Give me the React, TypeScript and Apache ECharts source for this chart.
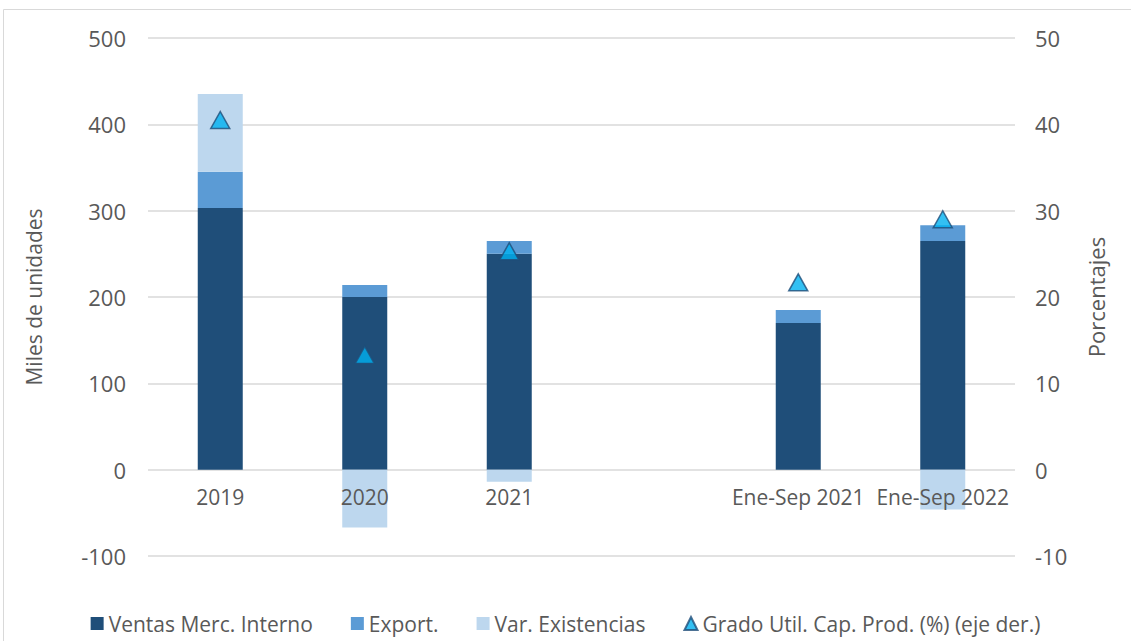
import React, { useEffect, useRef } from "react";
import * as echarts from "echarts";

const categories = ["2019", "2020", "2021", "", "Ene-Sep 2021", "Ene-Sep 2022"];
const ventasInterno = [303, 200, 250, null, 170, 265];
const exportaciones = [42, 14, 15, null, 15, 18];
const varExistencias = [90, -67, -14, null, null, -46];
const gradoUtil = [40.5, 13.3, 25.3, null, 21.7, 29.0];

const leftTicks = { min: -100, max: 500, interval: 100 };
const rightTicks = { min: -10, max: 50, interval: 10 };

const FONT = "'Open Sans', sans-serif";
const GREY = "#595959";

const GRID_TOP = 38;
const GRID_BOTTOM = 85;
const CHART_H = 641;

export default function App() {
  const ref = useRef<HTMLDivElement>(null);
  useEffect(() => {
    if (!ref.current) return;
    const chart = echarts.init(ref.current, undefined, { renderer: "svg" });
    // place the category axis at the zero of the left value axis
    const plotH = CHART_H - GRID_TOP - GRID_BOTTOM;
    const zeroFromBottom = (plotH * (0 - leftTicks.min)) / (leftTicks.max - leftTicks.min);
    chart.setOption({
      animation: false,
      backgroundColor: "#ffffff",
      textStyle: { fontFamily: FONT },
      graphic: [
        {
          type: "rect",
          shape: { x: 3.5, y: 9.5, width: 1140, height: 640 },
          style: { fill: "none", stroke: "#D9D9D9", lineWidth: 1 },
          silent: true,
        },
      ],
      grid: { left: 148, right: 116, top: GRID_TOP, bottom: GRID_BOTTOM, containLabel: false },
      legend: {
        bottom: 2,
        left: "center",
        itemGap: 38,
        itemWidth: 13,
        itemHeight: 13,
        textStyle: { fontFamily: FONT, fontSize: 21, color: GREY },
        data: [
          { name: "Ventas Merc. Interno", icon: "rect" },
          { name: "Export.", icon: "rect" },
          { name: "Var. Existencias", icon: "rect" },
          { name: "Grado Util. Cap. Prod. (%) (eje der.)", icon: "triangle" },
        ],
      },
      xAxis: {
        type: "category",
        data: categories,
        z: 10,
        offset: -zeroFromBottom,
        axisLine: { show: false, onZero: false },
        axisTick: { show: false },
        axisLabel: { color: GREY, fontSize: 21, fontFamily: FONT, margin: 17, interval: 0 },
      },
      yAxis: [
        {
          type: "value",
          ...leftTicks,
          name: "Miles de unidades",
          nameLocation: "middle",
          nameGap: 104,
          nameTextStyle: { color: GREY, fontSize: 21, fontFamily: FONT },
          axisLabel: { color: GREY, fontSize: 22, fontFamily: FONT, margin: 22 },
          axisLine: { show: false },
          axisTick: { show: false },
          splitLine: { lineStyle: { color: "#D9D9D9", width: 1.5 } },
        },
        {
          type: "value",
          ...rightTicks,
          name: "Porcentajes",
          nameLocation: "middle",
          nameGap: 70,
          nameRotate: 90,
          nameTextStyle: { color: GREY, fontSize: 22, fontFamily: FONT },
          axisLabel: { color: GREY, fontSize: 22, fontFamily: FONT, margin: 20 },
          axisLine: { show: false },
          axisTick: { show: false },
          splitLine: { show: false },
        },
      ],
      series: [
        {
          name: "Ventas Merc. Interno",
          type: "bar",
          stack: "total",
          barWidth: 45,
          data: ventasInterno,
          itemStyle: { color: "#1F4E79" },
        },
        {
          name: "Export.",
          type: "bar",
          stack: "total",
          barWidth: 45,
          data: exportaciones,
          itemStyle: { color: "#5B9BD5" },
        },
        {
          name: "Var. Existencias",
          type: "bar",
          stack: "total",
          barWidth: 45,
          data: varExistencias,
          itemStyle: { color: "#BDD7EE" },
        },
        {
          name: "Grado Util. Cap. Prod. (%) (eje der.)",
          type: "scatter",
          yAxisIndex: 1,
          symbol: "triangle",
          symbolSize: [19, 17],
          z: 5,
          data: gradoUtil,
          itemStyle: { color: "#00B0F0", borderColor: "#1F4E79", borderWidth: 1.5 },
        },
      ],
    });
    return () => chart.dispose();
  }, []);
  return (
    <div
      ref={ref}
      style={{ position: "absolute", left: 0, top: 0, width: 1131, height: 641 }}
    />
  );
}
